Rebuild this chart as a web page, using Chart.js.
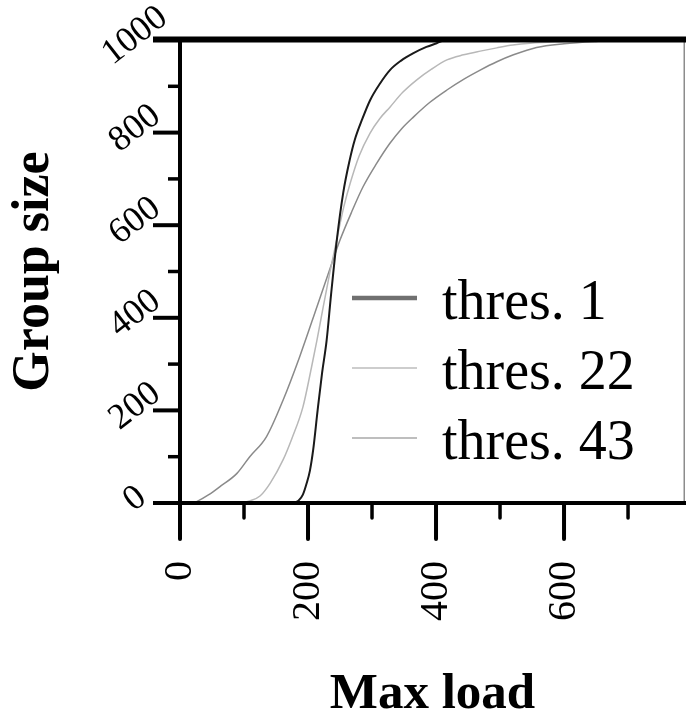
<!DOCTYPE html>
<html>
<head>
<meta charset="utf-8">
<script src="https://cdn.jsdelivr.net/npm/chart.js@4.4.1/dist/chart.umd.min.js"></script>
<style>
  html, body { margin: 0; padding: 0; background: #fff; }
  canvas { display: block; }
</style>
</head>
<body>
<canvas id="c" width="686" height="715"></canvas>
<script>
// ---- data ----
const seriesLabels = ['thres. 1', 'thres. 22', 'thres. 43'];

const thres1X = [0, 175, 185, 192, 198, 203, 208, 215, 222, 229, 236, 245, 255, 265, 273, 285, 297, 312, 328, 345, 364, 385, 401, 415, 789];
const thres1Y = [0, 0, 5, 18, 43, 70, 114, 200, 281, 350, 450, 568, 670, 740, 784, 830, 870, 905, 935, 955, 971, 985, 993, 1000, 1000];

const thres22X = [0, 90, 110, 125, 141, 161, 175, 192, 205, 214, 224, 234, 247, 256, 266, 280, 297, 312, 328, 348, 370, 393, 417, 443, 469, 495, 520, 547, 600, 650, 789];
const thres22Y = [0, 0, 5, 15, 43, 93, 140, 207, 290, 352, 425, 497, 583, 640, 691, 750, 799, 830, 855, 887, 914, 937, 957, 968, 976, 983, 989, 993, 997, 1000, 1000];

const thres43X = [0, 20, 26, 45, 62, 89, 109, 135, 161, 187, 214, 239, 250, 268, 286, 307, 328, 346, 365, 390, 417, 443, 469, 495, 521, 557, 600, 650, 700, 789];
const thres43Y = [0, 0, 3, 18, 35, 64, 100, 143, 222, 316, 424, 525, 568, 628, 683, 733, 777, 808, 834, 865, 892, 915, 935, 953, 968, 984, 992, 997, 1000, 1000];

const xTickValues = [0, 200, 400, 600];
const xTickLabels = ['0', '200', '400', '600'];
const xMinorTicks = [100, 300, 500, 700];
const yTickValues = [0, 200, 400, 600, 800, 1000];
const yTickLabels = ['0', '200', '400', '600', '800', '1000'];
const yMinorTicks = [100, 300, 500, 700, 900];

const xMin = 0, xMax = 789, yMin = 0, yMax = 1000;

// ---- styling ----
const SERIF = "'Liberation Serif', 'Times New Roman', Times, serif";
const lineColors = ['#1a1a1a', '#b8b8b8', '#8a8a8a'];
const lineWidths = [2, 1.5, 1.5];
const legendColors = ['#707070', '#bdbdbd', '#a8a8a8'];
const legendWidths = [4.5, 1.5, 1.5];

function pts(xs, ys) { return xs.map((x, i) => ({ x: x, y: ys[i] })); }
const seriesData = [pts(thres1X, thres1Y), pts(thres22X, thres22Y), pts(thres43X, thres43Y)];

const datasets = seriesData.map((d, i) => ({
  label: seriesLabels[i],
  data: d,
  borderColor: lineColors[i],
  borderWidth: lineWidths[i],
  pointRadius: 0,
  fill: false,
  cubicInterpolationMode: 'monotone',
  clip: false
}));

function seg(ctx, x1, y1, x2, y2) {
  ctx.beginPath(); ctx.moveTo(x1, y1); ctx.lineTo(x2, y2); ctx.stroke();
}

const paperAxes = {
  id: 'paperAxes',
  afterDatasetsDraw(chart) {
    const { ctx, chartArea: a, scales: { x, y } } = chart;
    const x0 = x.getPixelForValue(xMin);
    const y0 = y.getPixelForValue(yMin);
    const yTop = y.getPixelForValue(yMax);
    const majorLen = 27, minorLen = 12, xMajorLen = 36, xMinorLen = 15;
    ctx.save();
    // right frame (thin gray)
    ctx.strokeStyle = '#8c8c8c'; ctx.lineWidth = 1.5;
    seg(ctx, a.right - 0.75, yTop, a.right - 0.75, y0);
    ctx.strokeStyle = '#000';
    // bottom axis line
    ctx.lineWidth = 4;
    seg(ctx, x0 - majorLen, y0, chart.width, y0);
    // top line
    ctx.lineWidth = 6;
    seg(ctx, x0 - majorLen, yTop - 0.5, chart.width, yTop - 0.5);
    // left axis line
    ctx.lineWidth = 4;
    seg(ctx, x0, yTop - 3, x0, y0 + xMajorLen);
    // x ticks
    ctx.lineCap = 'round';
    xTickValues.forEach(v => { const p = x.getPixelForValue(v); ctx.lineWidth = 4; seg(ctx, p, y0, p, y0 + xMajorLen); });
    xMinorTicks.forEach(v => { const p = x.getPixelForValue(v); ctx.lineWidth = 3.5; seg(ctx, p, y0, p, y0 + xMinorLen); });
    ctx.lineCap = 'butt';
    // y ticks
    yTickValues.forEach(v => { const p = y.getPixelForValue(v); ctx.lineWidth = 4; seg(ctx, x0 - majorLen, p, x0, p); });
    yMinorTicks.forEach(v => { const p = y.getPixelForValue(v); ctx.lineWidth = 3.5; seg(ctx, x0 - minorLen, p, x0, p); });

    // legend
    const lx1 = a.left + 172, lx2 = a.left + 237, tx = a.left + 262;
    ctx.font = '56px ' + SERIF;
    ctx.textAlign = 'left';
    ctx.textBaseline = 'alphabetic';
    chart.data.datasets.forEach((ds, i) => {
      const ry = a.top + 258 + i * 70;
      ctx.strokeStyle = legendColors[i];
      ctx.lineWidth = legendWidths[i];
      seg(ctx, lx1, ry, lx2, ry);
      ctx.fillStyle = '#000';
      ctx.fillText(ds.label, tx, ry + 21);
    });
    ctx.restore();
  }
};

new Chart(document.getElementById('c'), {
  type: 'line',
  data: { datasets: datasets },
  options: {
    responsive: false,
    animation: false,
    events: [],
    layout: { padding: { top: 40, right: 1, left: 0, bottom: 0 } },
    plugins: { legend: { display: false }, tooltip: { enabled: false } },
    scales: {
      x: {
        type: 'linear', min: xMin, max: xMax,
        afterBuildTicks: s => { s.ticks = xTickValues.map(v => ({ value: v })); },
        afterFit: s => { s.height = 212; s.paddingLeft = 0; s.paddingRight = 0; },
        grid: { display: false, drawTicks: false },
        border: { display: false },
        ticks: {
          autoSkip: false, minRotation: 90, maxRotation: 90, padding: 58,
          color: '#000', font: { family: SERIF, size: 40 },
          callback: (v, i) => xTickLabels[i]
        },
        title: {
          display: true, text: 'Max load', color: '#000', padding: 0,
          font: { family: SERIF, size: 51, weight: 'bold', lineHeight: 0.8 }
        }
      },
      y: {
        type: 'linear', min: yMin, max: yMax,
        afterBuildTicks: s => { s.ticks = yTickValues.map(v => ({ value: v })); },
        afterFit: s => { s.width = 180; s.paddingTop = 0; s.paddingBottom = 0; },
        grid: { display: false, drawTicks: false },
        border: { display: false },
        ticks: {
          autoSkip: false, minRotation: 38, maxRotation: 38, padding: 9, labelOffset: -4,
          crossAlign: 'center',
          color: '#000', font: { family: SERIF, size: 36 },
          callback: (v, i) => yTickLabels[i]
        },
        title: {
          display: true, text: 'Group size', color: '#000', padding: { top: 3, bottom: 0 },
          font: { family: SERIF, size: 52, weight: 'bold' }
        }
      }
    }
  },
  plugins: [paperAxes]
});
</script>
</body>
</html>
